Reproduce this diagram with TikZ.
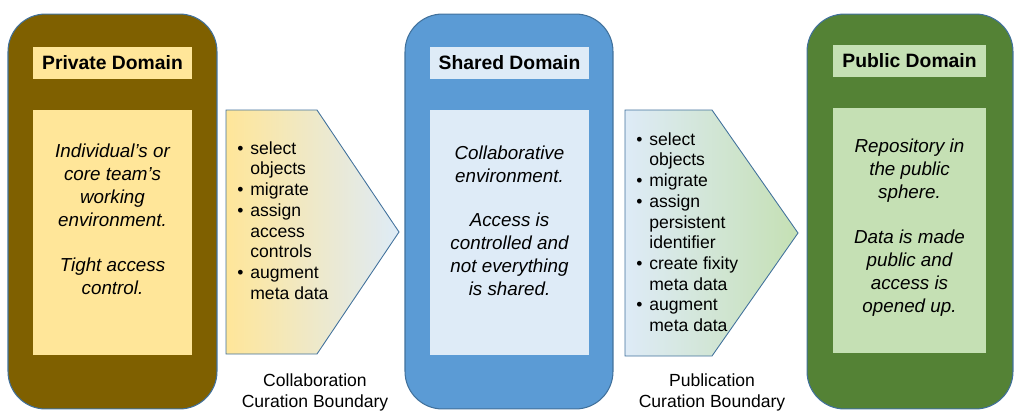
\documentclass[tikz,border=0pt]{standalone}
\usepackage{fontspec}
\setmainfont{Liberation Sans}
\usepackage{tikz}

\definecolor{privdark}{HTML}{7F6000}
\definecolor{privlight}{HTML}{FFE699}
\definecolor{shardark}{HTML}{5B9BD5}
\definecolor{sharlight}{HTML}{DEEBF7}
\definecolor{pubdark}{HTML}{548235}
\definecolor{publight}{HTML}{C5E0B4}
\definecolor{rim}{HTML}{41719C}

\newcommand{\bul}{\makebox[0.26cm][l]{\textbullet}}
\newcommand{\ind}{\hspace*{0.26cm}}

\begin{document}
\begin{tikzpicture}[x=0.02cm, y=-0.02cm,
    domainbox/.style={draw=rim, line width=0.6pt, rounded corners=0.75cm, minimum height=7.9cm},
    titlebox/.style={inner sep=0, minimum height=0.64cm, font=\fontsize{11}{13}\selectfont\bfseries},
    bodybox/.style={inner sep=0, minimum height=4.9cm},
    bodytext/.style={anchor=north, align=center, inner sep=0, font=\fontsize{10.7}{13}\selectfont\itshape},
    bullets/.style={anchor=north west, align=left, inner sep=0, font=\fontsize{10}{11.8}\selectfont},
    boundary/.style={align=center, inner sep=0, font=\fontsize{10}{12}\selectfont}]
                        \useasboundingbox (0,0) rectangle (1024,416);

                        % domains
                        \node[domainbox, fill=privdark, minimum width=4.18cm] (priv) at (112.5,211.5) {};
                        \node[domainbox, fill=shardark, minimum width=4.16cm] (shar) at (509,211.5) {};
                        \node[domainbox, fill=pubdark, minimum width=4.12cm] (pub) at (910,211.5) {};

                        \node[titlebox, fill=privlight, minimum width=3.18cm] (privtitle) at (112.5,63) {Private Domain};
                        \node[titlebox, fill=sharlight, minimum width=3.2cm] (shartitle) at (509.5,63) {Shared Domain};
                        \node[titlebox, fill=publight, minimum width=3.06cm] (pubtitle) at (909.5,61) {Public Domain};

                        \node[bodybox, fill=privlight, minimum width=3.18cm] (privbody) at (112.5,232.5) {};
                        \node[bodybox, fill=sharlight, minimum width=3.2cm] (sharbody) at (509.5,232.5) {};
                        \node[bodybox, fill=publight, minimum width=3.06cm] (pubbody) at (909.5,230.5) {};

                        \node[bodytext] (privtext) at (112.5,144) {Individual’s or\\core team’s\\working\\environment.\\[12.7pt]Tight access\\control.};
                        \node[bodytext] (shartext) at (509.5,146) {Collaborative\\environment.\\[12pt]Access is\\controlled and\\not everything\\is shared.};
                        \node[bodytext] (pubtext) at (909.5,139) {Repository in\\the public\\sphere.\\[12.7pt]Data is made\\public and\\access is\\opened up.};

                        % curation boundaries
                        \shadedraw[draw=rim, line width=0.5pt, left color=privlight, right color=sharlight]
                        (226,110) -- (317,110) -- (399,232) -- (317,354) -- (226,354) -- cycle;
                        \shadedraw[draw=rim, line width=0.5pt, left color=sharlight, right color=publight]
                        (625,110) -- (712,110) -- (798,233) -- (712,356) -- (625,356) -- cycle;

                        \node[bullets] (collitems) at (237,141) {\bul select\\\ind objects\\\bul migrate\\\bul assign\\\ind access\\\ind controls\\\bul augment\\\ind meta data};
                        \node[bullets] (pubitems) at (636,132) {\bul select\\\ind objects\\\bul migrate\\\bul assign\\\ind persistent\\\ind identifier\\\bul create fixity\\\ind meta data\\\bul augment\\\ind meta data};

                        \node[boundary] (colllabel) at (315,392) {Collaboration\\Curation Boundary};
                        \node[boundary] (publabel) at (712,392) {Publication\\Curation Boundary};
                    \end{tikzpicture}
\end{document}
